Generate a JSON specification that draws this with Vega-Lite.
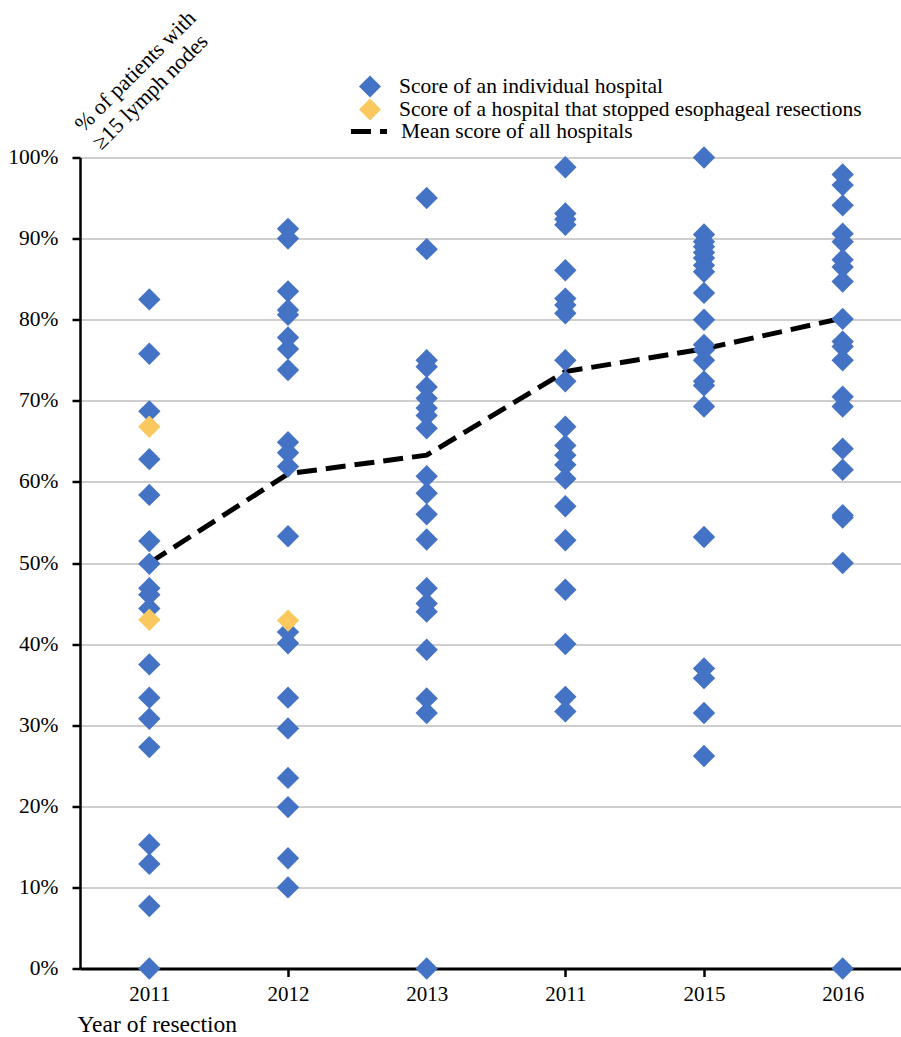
{
  "$schema": "https://vega.github.io/schema/vega-lite/v6.json",
  "width": 821,
  "height": 811,
  "autosize": {"type": "none"},
  "padding": {"left": 80, "top": 157.5, "right": 0, "bottom": 68.5},
  "background": "white",
  "config": {
    "view": {"stroke": null},
    "font": "Liberation Serif",
    "axis": {"labelFont": "Liberation Serif", "titleFont": "Liberation Serif", "labelColor": "black", "titleColor": "black", "titleFontWeight": "normal"},
    "legend": {"labelFont": "Liberation Serif", "labelColor": "black", "labelLimit": 0}
  },
  "datasets": {
    "scores": [
      {"year": "2011", "pct": 0.825, "type": "individual"},
      {"year": "2011", "pct": 0.758, "type": "individual"},
      {"year": "2011", "pct": 0.687, "type": "individual"},
      {"year": "2011", "pct": 0.628, "type": "individual"},
      {"year": "2011", "pct": 0.584, "type": "individual"},
      {"year": "2011", "pct": 0.527, "type": "individual"},
      {"year": "2011", "pct": 0.499, "type": "individual"},
      {"year": "2011", "pct": 0.469, "type": "individual"},
      {"year": "2011", "pct": 0.461, "type": "individual"},
      {"year": "2011", "pct": 0.444, "type": "individual"},
      {"year": "2011", "pct": 0.375, "type": "individual"},
      {"year": "2011", "pct": 0.334, "type": "individual"},
      {"year": "2011", "pct": 0.308, "type": "individual"},
      {"year": "2011", "pct": 0.273, "type": "individual"},
      {"year": "2011", "pct": 0.153, "type": "individual"},
      {"year": "2011", "pct": 0.129, "type": "individual"},
      {"year": "2011", "pct": 0.077, "type": "individual"},
      {"year": "2011", "pct": 0.0, "type": "individual"},
      {"year": "2012", "pct": 0.912, "type": "individual"},
      {"year": "2012", "pct": 0.9, "type": "individual"},
      {"year": "2012", "pct": 0.835, "type": "individual"},
      {"year": "2012", "pct": 0.812, "type": "individual"},
      {"year": "2012", "pct": 0.806, "type": "individual"},
      {"year": "2012", "pct": 0.778, "type": "individual"},
      {"year": "2012", "pct": 0.764, "type": "individual"},
      {"year": "2012", "pct": 0.738, "type": "individual"},
      {"year": "2012", "pct": 0.649, "type": "individual"},
      {"year": "2012", "pct": 0.636, "type": "individual"},
      {"year": "2012", "pct": 0.619, "type": "individual"},
      {"year": "2012", "pct": 0.533, "type": "individual"},
      {"year": "2012", "pct": 0.415, "type": "individual"},
      {"year": "2012", "pct": 0.401, "type": "individual"},
      {"year": "2012", "pct": 0.334, "type": "individual"},
      {"year": "2012", "pct": 0.296, "type": "individual"},
      {"year": "2012", "pct": 0.235, "type": "individual"},
      {"year": "2012", "pct": 0.199, "type": "individual"},
      {"year": "2012", "pct": 0.136, "type": "individual"},
      {"year": "2012", "pct": 0.1, "type": "individual"},
      {"year": "2013", "pct": 0.95, "type": "individual"},
      {"year": "2013", "pct": 0.887, "type": "individual"},
      {"year": "2013", "pct": 0.75, "type": "individual"},
      {"year": "2013", "pct": 0.742, "type": "individual"},
      {"year": "2013", "pct": 0.717, "type": "individual"},
      {"year": "2013", "pct": 0.703, "type": "individual"},
      {"year": "2013", "pct": 0.691, "type": "individual"},
      {"year": "2013", "pct": 0.682, "type": "individual"},
      {"year": "2013", "pct": 0.666, "type": "individual"},
      {"year": "2013", "pct": 0.607, "type": "individual"},
      {"year": "2013", "pct": 0.586, "type": "individual"},
      {"year": "2013", "pct": 0.56, "type": "individual"},
      {"year": "2013", "pct": 0.529, "type": "individual"},
      {"year": "2013", "pct": 0.469, "type": "individual"},
      {"year": "2013", "pct": 0.45, "type": "individual"},
      {"year": "2013", "pct": 0.44, "type": "individual"},
      {"year": "2013", "pct": 0.393, "type": "individual"},
      {"year": "2013", "pct": 0.333, "type": "individual"},
      {"year": "2013", "pct": 0.315, "type": "individual"},
      {"year": "2013", "pct": 0.0, "type": "individual"},
      {"year": "2011b", "pct": 0.988, "type": "individual"},
      {"year": "2011b", "pct": 0.931, "type": "individual"},
      {"year": "2011b", "pct": 0.924, "type": "individual"},
      {"year": "2011b", "pct": 0.917, "type": "individual"},
      {"year": "2011b", "pct": 0.861, "type": "individual"},
      {"year": "2011b", "pct": 0.826, "type": "individual"},
      {"year": "2011b", "pct": 0.818, "type": "individual"},
      {"year": "2011b", "pct": 0.808, "type": "individual"},
      {"year": "2011b", "pct": 0.75, "type": "individual"},
      {"year": "2011b", "pct": 0.724, "type": "individual"},
      {"year": "2011b", "pct": 0.668, "type": "individual"},
      {"year": "2011b", "pct": 0.645, "type": "individual"},
      {"year": "2011b", "pct": 0.633, "type": "individual"},
      {"year": "2011b", "pct": 0.621, "type": "individual"},
      {"year": "2011b", "pct": 0.604, "type": "individual"},
      {"year": "2011b", "pct": 0.57, "type": "individual"},
      {"year": "2011b", "pct": 0.528, "type": "individual"},
      {"year": "2011b", "pct": 0.467, "type": "individual"},
      {"year": "2011b", "pct": 0.4, "type": "individual"},
      {"year": "2011b", "pct": 0.335, "type": "individual"},
      {"year": "2011b", "pct": 0.317, "type": "individual"},
      {"year": "2015", "pct": 1.0, "type": "individual"},
      {"year": "2015", "pct": 0.905, "type": "individual"},
      {"year": "2015", "pct": 0.896, "type": "individual"},
      {"year": "2015", "pct": 0.89, "type": "individual"},
      {"year": "2015", "pct": 0.883, "type": "individual"},
      {"year": "2015", "pct": 0.876, "type": "individual"},
      {"year": "2015", "pct": 0.867, "type": "individual"},
      {"year": "2015", "pct": 0.859, "type": "individual"},
      {"year": "2015", "pct": 0.833, "type": "individual"},
      {"year": "2015", "pct": 0.8, "type": "individual"},
      {"year": "2015", "pct": 0.769, "type": "individual"},
      {"year": "2015", "pct": 0.763, "type": "individual"},
      {"year": "2015", "pct": 0.75, "type": "individual"},
      {"year": "2015", "pct": 0.724, "type": "individual"},
      {"year": "2015", "pct": 0.719, "type": "individual"},
      {"year": "2015", "pct": 0.693, "type": "individual"},
      {"year": "2015", "pct": 0.532, "type": "individual"},
      {"year": "2015", "pct": 0.37, "type": "individual"},
      {"year": "2015", "pct": 0.358, "type": "individual"},
      {"year": "2015", "pct": 0.315, "type": "individual"},
      {"year": "2015", "pct": 0.262, "type": "individual"},
      {"year": "2016", "pct": 0.979, "type": "individual"},
      {"year": "2016", "pct": 0.966, "type": "individual"},
      {"year": "2016", "pct": 0.941, "type": "individual"},
      {"year": "2016", "pct": 0.906, "type": "individual"},
      {"year": "2016", "pct": 0.896, "type": "individual"},
      {"year": "2016", "pct": 0.874, "type": "individual"},
      {"year": "2016", "pct": 0.865, "type": "individual"},
      {"year": "2016", "pct": 0.847, "type": "individual"},
      {"year": "2016", "pct": 0.801, "type": "individual"},
      {"year": "2016", "pct": 0.773, "type": "individual"},
      {"year": "2016", "pct": 0.767, "type": "individual"},
      {"year": "2016", "pct": 0.75, "type": "individual"},
      {"year": "2016", "pct": 0.705, "type": "individual"},
      {"year": "2016", "pct": 0.693, "type": "individual"},
      {"year": "2016", "pct": 0.641, "type": "individual"},
      {"year": "2016", "pct": 0.615, "type": "individual"},
      {"year": "2016", "pct": 0.559, "type": "individual"},
      {"year": "2016", "pct": 0.556, "type": "individual"},
      {"year": "2016", "pct": 0.5, "type": "individual"},
      {"year": "2016", "pct": 0.0, "type": "individual"},
      {"year": "2011", "pct": 0.668, "type": "stopped"},
      {"year": "2011", "pct": 0.43, "type": "stopped"},
      {"year": "2012", "pct": 0.429, "type": "stopped"}
    ],
    "means": [
      {"year": "2011", "pct": 0.5, "series": "Mean score of all hospitals"},
      {"year": "2012", "pct": 0.61, "series": "Mean score of all hospitals"},
      {"year": "2013", "pct": 0.633, "series": "Mean score of all hospitals"},
      {"year": "2011b", "pct": 0.736, "series": "Mean score of all hospitals"},
      {"year": "2015", "pct": 0.764, "series": "Mean score of all hospitals"},
      {"year": "2016", "pct": 0.802, "series": "Mean score of all hospitals"}
    ]
  },
  "encoding": {
    "x": {
      "field": "year",
      "type": "ordinal",
      "scale": {"type": "point", "domain": ["2011", "2012", "2013", "2011b", "2015", "2016"], "range": [0, 832], "padding": 0.5},
      "axis": {
        "labelExpr": "replace(datum.label, 'b', '')",
        "labelAngle": 0,
        "labelFontSize": 21,
        "labelPadding": 7,
        "domainColor": "black",
        "domainWidth": 3,
        "tickColor": "black",
        "tickWidth": 2.5,
        "tickSize": 8,
        "grid": false,
        "title": "Year of resection",
        "titleFontSize": 23.5,
        "titleAnchor": "start",
        "titleAlign": "left",
        "titleBaseline": "alphabetic",
        "titleX": -3,
        "titleY": 63
      }
    },
    "y": {
      "field": "pct",
      "type": "quantitative",
      "scale": {"domain": [0, 1], "nice": false, "zero": true},
      "axis": {
        "values": [0, 0.1, 0.2, 0.3, 0.4, 0.5, 0.6, 0.7, 0.8, 0.9, 1],
        "format": ".0%",
        "labelFontSize": 21.5,
        "labelPadding": 14,
        "domainColor": "black",
        "domainWidth": 2.5,
        "tickColor": "black",
        "tickWidth": 2.5,
        "tickSize": 8,
        "grid": true,
        "gridColor": "#BEBEBE",
        "gridWidth": 1.3,
        "title": ["% of patients with", "≥15 lymph nodes"],
        "titleFontSize": 22,
        "titleAngle": -45,
        "titleAlign": "left",
        "titleBaseline": "alphabetic",
        "titleLineHeight": 25,
        "titleX": 3,
        "titleY": -25
      }
    }
  },
  "layer": [
    {
      "data": {"name": "means"},
      "mark": {"type": "line", "color": "black", "strokeWidth": 5},
      "encoding": {
        "strokeDash": {
          "field": "series",
          "type": "nominal",
          "scale": {"range": [[20, 9]]},
          "legend": {
            "title": null,
            "orient": "none",
            "legendX": 268,
            "legendY": -47,
            "padding": 0,
            "symbolType": "stroke",
            "symbolSize": 1300,
            "symbolStrokeWidth": 5,
            "symbolStrokeColor": "black",
            "labelFont": "Liberation Serif",
            "labelFontSize": 21.5,
            "labelOffset": 11
          }
        }
      }
    },
    {
      "data": {"name": "scores"},
      "mark": {"type": "point", "shape": "diamond", "filled": true, "size": 500, "opacity": 1},
      "encoding": {
        "color": {
          "field": "type",
          "type": "nominal",
          "scale": {"domain": ["individual", "stopped"], "range": ["#4472C4", "#FAC85F"]},
          "legend": {
            "title": null,
            "orient": "none",
            "legendX": 278,
            "legendY": -83,
            "padding": 0,
            "symbolType": "diamond",
            "symbolSize": 484,
            "symbolOpacity": 1,
            "labelFont": "Liberation Serif",
            "labelFontSize": 21.5,
            "labelOffset": 17,
            "rowPadding": 0,
            "labelExpr": "datum.value == 'individual' ? 'Score of an individual hospital' : 'Score of a hospital that stopped esophageal resections'"
          }
        }
      }
    }
  ]
}
